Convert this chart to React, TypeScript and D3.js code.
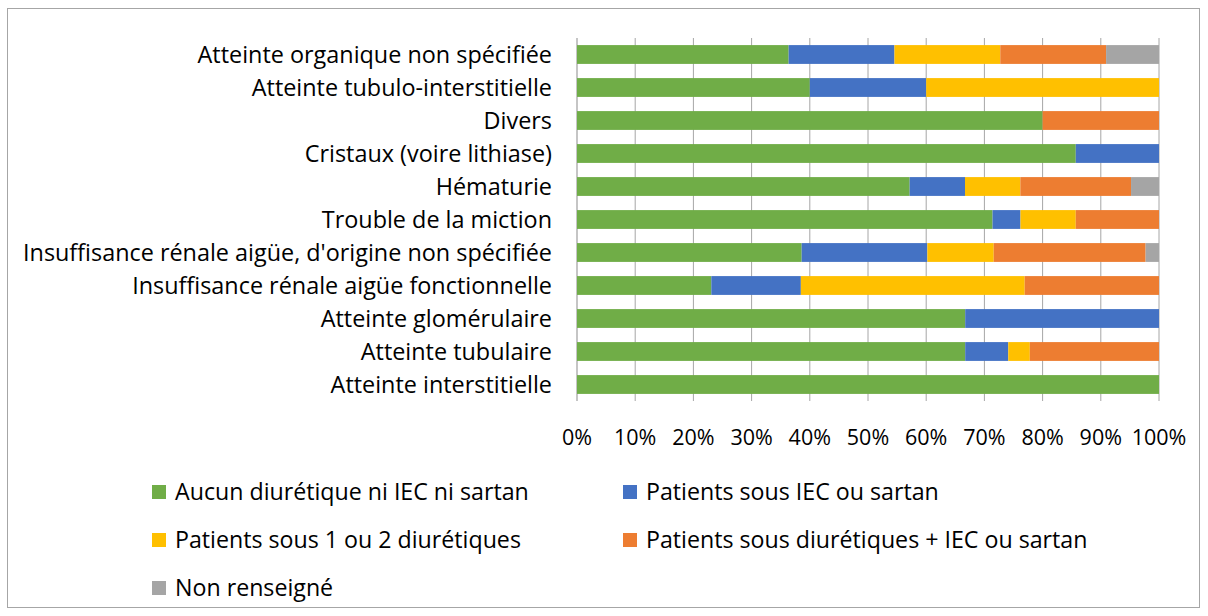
import React from 'react';
import * as d3 from 'd3';

// categories, top to bottom as drawn
const categories = [
  'Atteinte organique non spécifiée',
  'Atteinte tubulo-interstitielle',
  'Divers',
  'Cristaux (voire lithiase)',
  'Hématurie',
  'Trouble de la miction',
  "Insuffisance rénale aigüe, d'origine non spécifiée",
  'Insuffisance rénale aigüe fonctionnelle',
  'Atteinte glomérulaire',
  'Atteinte tubulaire',
  'Atteinte interstitielle',
];

// percentages per series, same order as categories
const aucun = [36.4, 40, 80, 85.7, 57.1, 71.4, 38.6, 23.1, 66.7, 66.7, 100];
const iecSartan = [18.2, 20, 0, 14.3, 9.5, 4.8, 21.6, 15.4, 33.3, 7.4, 0];
const diuretiques = [18.2, 40, 0, 0, 9.5, 9.5, 11.4, 38.5, 0, 3.7, 0];
const diurIec = [18.2, 0, 20, 0, 19.0, 14.3, 26.1, 23.1, 0, 22.2, 0];
const nonRenseigne = [9.1, 0, 0, 0, 4.8, 0, 2.3, 0, 0, 0, 0];

const seriesNames = [
  'Aucun diurétique ni IEC ni sartan',
  'Patients sous IEC ou sartan',
  'Patients sous 1 ou 2 diurétiques',
  'Patients sous diurétiques + IEC ou sartan',
  'Non renseigné',
];
const seriesColors = ['#70AD47', '#4472C4', '#FFC000', '#ED7D31', '#A5A5A5'];
const seriesValues = [aucun, iecSartan, diuretiques, diurIec, nonRenseigne];

const tickValues = [0, 0.1, 0.2, 0.3, 0.4, 0.5, 0.6, 0.7, 0.8, 0.9, 1];

const FONT = '"Open Sans", "Liberation Sans", sans-serif';

export default function App() {
  const width = 1208;
  const height = 616;
  const plot = {left: 577, right: 1159, top: 38, bottom: 401};

  const rows = categories.map((c, i) => {
    const row: Record<string, any> = {cat: c};
    seriesNames.forEach((s, j) => { row[s] = seriesValues[j][i]; });
    return row;
  });

  const stacked = d3.stack<any>()
    .keys(seriesNames)
    .offset(d3.stackOffsetExpand)(rows);

  const x = d3.scaleLinear().domain([0, 1]).range([plot.left, plot.right]);
  const y = d3.scaleBand().domain(categories).range([plot.top, plot.bottom]).paddingInner(0.43).paddingOuter(0.215);

  const fmt = d3.format('.0%');

  // legend layout: two columns, three rows
  const legendCols = [152, 623];
  const legendRows = [492, 540, 588];

  return (
    <div style={{position: 'absolute', left: 0, top: 0}}>
      <svg width={width} height={height} style={{display: 'block', background: '#fff'}}>
        <rect x={7.5} y={8.5} width={1192} height={599} fill="#fff" stroke="#A6A6A6" />

        {/* gridlines */}
        <g>
          {tickValues.map(t => (
            <line key={t} x1={x(t)} x2={x(t)} y1={plot.top} y2={plot.bottom}
              stroke="#A6A6A6" strokeWidth={t === 0 ? 1.3 : 1} />
          ))}
        </g>

        {/* bars */}
        <g>
          {stacked.map((layer, j) => (
            <g key={layer.key} fill={seriesColors[j]}>
              {layer.map((d, i) => (
                <rect key={i}
                  x={x(d[0])}
                  y={y(categories[i])}
                  width={Math.max(0, x(d[1]) - x(d[0]))}
                  height={y.bandwidth()} />
              ))}
            </g>
          ))}
        </g>

        {/* category labels */}
        <g fontFamily={FONT} fontSize={23.4} fill="#000" textAnchor="end">
          {categories.map(c => (
            <text key={c} x={plot.left - 25} y={(y(c) as number) + y.bandwidth() / 2} dy="0.36em">{c}</text>
          ))}
        </g>

        {/* x tick labels */}
        <g fontFamily={FONT} fontSize={21.5} fill="#000" textAnchor="middle">
          {tickValues.map(t => (
            <text key={t} x={x(t)} y={437} dy="0.36em">{fmt(t)}</text>
          ))}
        </g>

        {/* legend */}
        <g fontFamily={FONT} fontSize={23.2} fill="#000">
          {seriesNames.map((s, j) => {
            const lx = legendCols[j % 2];
            const ly = legendRows[Math.floor(j / 2)];
            return (
              <g key={s}>
                <rect x={lx} y={ly - 7} width={14} height={14} fill={seriesColors[j]} />
                <text x={lx + 23} y={ly} dy="0.36em">{s}</text>
              </g>
            );
          })}
        </g>
      </svg>
    </div>
  );
}
